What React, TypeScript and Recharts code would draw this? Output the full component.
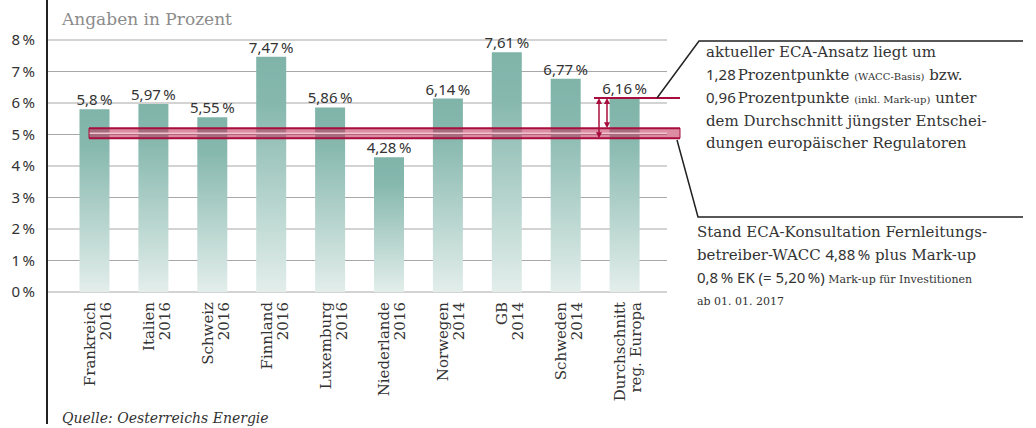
import React from 'react';
import { BarChart, Bar, XAxis, YAxis, CartesianGrid, ReferenceArea, ReferenceLine, LabelList } from 'recharts';

// WACC decisions of European regulators, in percent
const countries = ['Frankreich', 'Italien', 'Schweiz', 'Finnland', 'Luxemburg', 'Niederlande', 'Norwegen', 'GB', 'Schweden', 'Durchschnitt'];
const years = ['2016', '2016', '2016', '2016', '2016', '2016', '2014', '2014', '2014', 'reg. Europa'];
const wacc = [5.8, 5.97, 5.55, 7.47, 5.86, 4.28, 6.14, 7.61, 6.77, 6.16];
const yTicks = [0, 1, 2, 3, 4, 5, 6, 7, 8];

const ecaBase = 4.88; // ECA-Konsultation WACC
const ecaMarkup = 5.2; // incl. mark-up
const europeAvg = 6.16;

const data = countries.map((name, i) => ({ name, year: years[i], value: wacc[i] }));

const serif = '"DejaVu Serif", serif';
const sans = '"Noto Sans", sans-serif';
const ink = '#333';
const red = '#a80e3d';

const pct = (v: number) => `${String(v).replace('.', ',')}\u2009%`;

const XTick = ({ x, y, payload }: any) => {
  const row = data.find((d) => d.name === payload.value);
  if (!row) return null;
  return (
    <g transform={`translate(${x},${y})`}>
      <text transform="rotate(-90)" textAnchor="end" fontFamily={serif} fontSize={15} fill={ink}>
        <tspan x={0} y={0}>{row.name}</tspan>
        <tspan x={0} y={16}>{row.year}</tspan>
      </text>
    </g>
  );
};

const YTick = ({ x, y, payload }: any) => (
  <text x={x} y={y} dy="0.35em" textAnchor="end" fontFamily={sans} fontSize={15} fill={ink}>
    {pct(payload.value)}
  </text>
);

const ValueLabel = (p: any) => (
  <text x={p.x + p.width / 2} y={p.y - 4} textAnchor="middle" fontFamily={sans} fontSize={15} fill={ink}>
    {pct(p.value)}
  </text>
);

// the reference area spans the padded category range
const EcaBand = (p: any) => {
  const { x, y, width, height } = p;
  const left = x + 23.5;
  const right = x + width + 25.5;
  return (
    <g>
      <rect x={left} y={y} width={right - left} height={height} fill="#c0305a" fillOpacity={0.55} />
      <line x1={left} x2={x + width + 12.5} y1={y + height / 2} y2={y + height / 2} stroke="#f0c2cf" strokeWidth={1.5} />
      <line x1={left} x2={right} y1={y} y2={y} stroke={red} strokeWidth={2} />
      <line x1={left} x2={right} y1={y + height} y2={y + height} stroke={red} strokeWidth={2} />
      <line x1={left} x2={left} y1={y} y2={y + height} stroke={red} strokeWidth={1} />
      <line x1={right} x2={right} y1={y} y2={y + height} stroke={red} strokeWidth={1} />
    </g>
  );
};

const AvgLine = (p: any) => (
  <line x1={p.x2 - 73} x2={p.x2 + 13} y1={p.y1} y2={p.y2} stroke={red} strokeWidth={2} />
);

const makeArrow = (offset: number) => (p: any) => {
  const { x, y, width, height } = p;
  const ax = x + width - offset;
  const top = y;
  const bottom = y + height;
  return (
    <g fill={red} stroke={red}>
      <line x1={ax} x2={ax} y1={top + 5} y2={bottom - 5} strokeWidth={1.5} />
      <polygon points={`${ax - 3},${top + 6} ${ax + 3},${top + 6} ${ax},${top}`} stroke="none" />
      <polygon points={`${ax - 3},${bottom - 6} ${ax + 3},${bottom - 6} ${ax},${bottom}`} stroke="none" />
    </g>
  );
};

export default function App() {
  return (
    <div style={{ position: 'absolute', left: 0, top: 0, width: 1036, height: 428, background: '#fff' }}>
      <BarChart
        width={1036}
        height={428}
        data={data}
        margin={{ top: 40, right: 369, bottom: 36, left: 0 }}
        barSize={30}
      >
        <defs>
          <linearGradient id="barGrad" x1="0" y1="0" x2="0" y2="1">
            <stop offset="0" stopColor="#80b4a9" />
            <stop offset="0.2" stopColor="#86b8ae" />
            <stop offset="1" stopColor="#e3eeeb" />
          </linearGradient>
        </defs>
        <CartesianGrid vertical={false} stroke="#a8a8a8" strokeWidth={1.2} />
        <XAxis
          dataKey="name"
          axisLine={false}
          tickLine={false}
          tickSize={0}
          tickMargin={10}
          height={100}
          interval={0}
          padding={{ left: 18.5, right: 12.5 }}
          tick={<XTick />}
        />
        <YAxis
          domain={[0, 8]}
          ticks={yTicks}
          width={47}
          axisLine={false}
          tickLine={false}
          tickSize={0}
          tickMargin={12}
          tick={<YTick />}
        />
        <Bar dataKey="value" fill="url(#barGrad)" isAnimationActive={false}>
          <LabelList dataKey="value" content={ValueLabel} />
        </Bar>
        <ReferenceArea y1={ecaBase} y2={ecaMarkup} shape={EcaBand} zIndex={350} ifOverflow="visible" />
        <ReferenceLine y={europeAvg} shape={AvgLine} zIndex={350} ifOverflow="visible" />
        <ReferenceArea y1={ecaBase} y2={europeAvg} shape={makeArrow(55.5)} zIndex={360} ifOverflow="visible" />
        <ReferenceArea y1={ecaMarkup} y2={europeAvg} shape={makeArrow(47.5)} zIndex={360} ifOverflow="visible" />
      </BarChart>
      <svg width={1036} height={428} style={{ position: 'absolute', left: 0, top: 0, pointerEvents: 'none' }}>
        <line x1={47} x2={47} y1={0} y2={424} stroke="#222" strokeWidth={2} />
        <polyline points="657,98 699,41 1023,41" fill="none" stroke="#222" strokeWidth={1.5} />
        <polyline points="677,140 698,217 1023,217" fill="none" stroke="#222" strokeWidth={1.5} />
        <text x={62} y={25} fontFamily={serif} fontSize={17} fill="#8c8c8c">Angaben in Prozent</text>
        <text x={62} y={423} fontFamily={serif} fontStyle="italic" fontSize={14} fill={ink}>Quelle: Oesterreichs Energie</text>
        <g fontFamily={serif} fontSize={15} fill={ink}>
          <text x={706} y={57}>aktueller ECA-Ansatz liegt um</text>
          <text x={706} y={80}>
            <tspan fontFamily={sans}>1,28</tspan><tspan dx={2}>Prozentpunkte </tspan>
            <tspan fontSize={10}>(WACC-Basis)</tspan><tspan> bzw.</tspan>
          </text>
          <text x={706} y={103}>
            <tspan fontFamily={sans}>0,96</tspan><tspan dx={2}>Prozentpunkte </tspan>
            <tspan fontSize={10}>(inkl. Mark-up)</tspan><tspan> unter</tspan>
          </text>
          <text x={706} y={126}>dem Durchschnitt jüngster Entschei-</text>
          <text x={706} y={148}>dungen europäischer Regulatoren</text>
          <text x={697} y={237}>Stand ECA-Konsultation Fernleitungs-</text>
          <text x={697} y={260}>
            <tspan>betreiber-WACC </tspan><tspan fontFamily={sans}>4,88{'\u2009'}%</tspan><tspan> plus Mark-up</tspan>
          </text>
          <text x={697} y={283}>
            <tspan fontFamily={sans}>0,8{'\u2009'}% EK (= 5,20{'\u2009'}%)</tspan>
            <tspan fontSize={11}> Mark-up für Investitionen</tspan>
          </text>
          <text x={697} y={305} fontSize={11}>ab 01. 01. 2017</text>
        </g>
      </svg>
    </div>
  );
}
